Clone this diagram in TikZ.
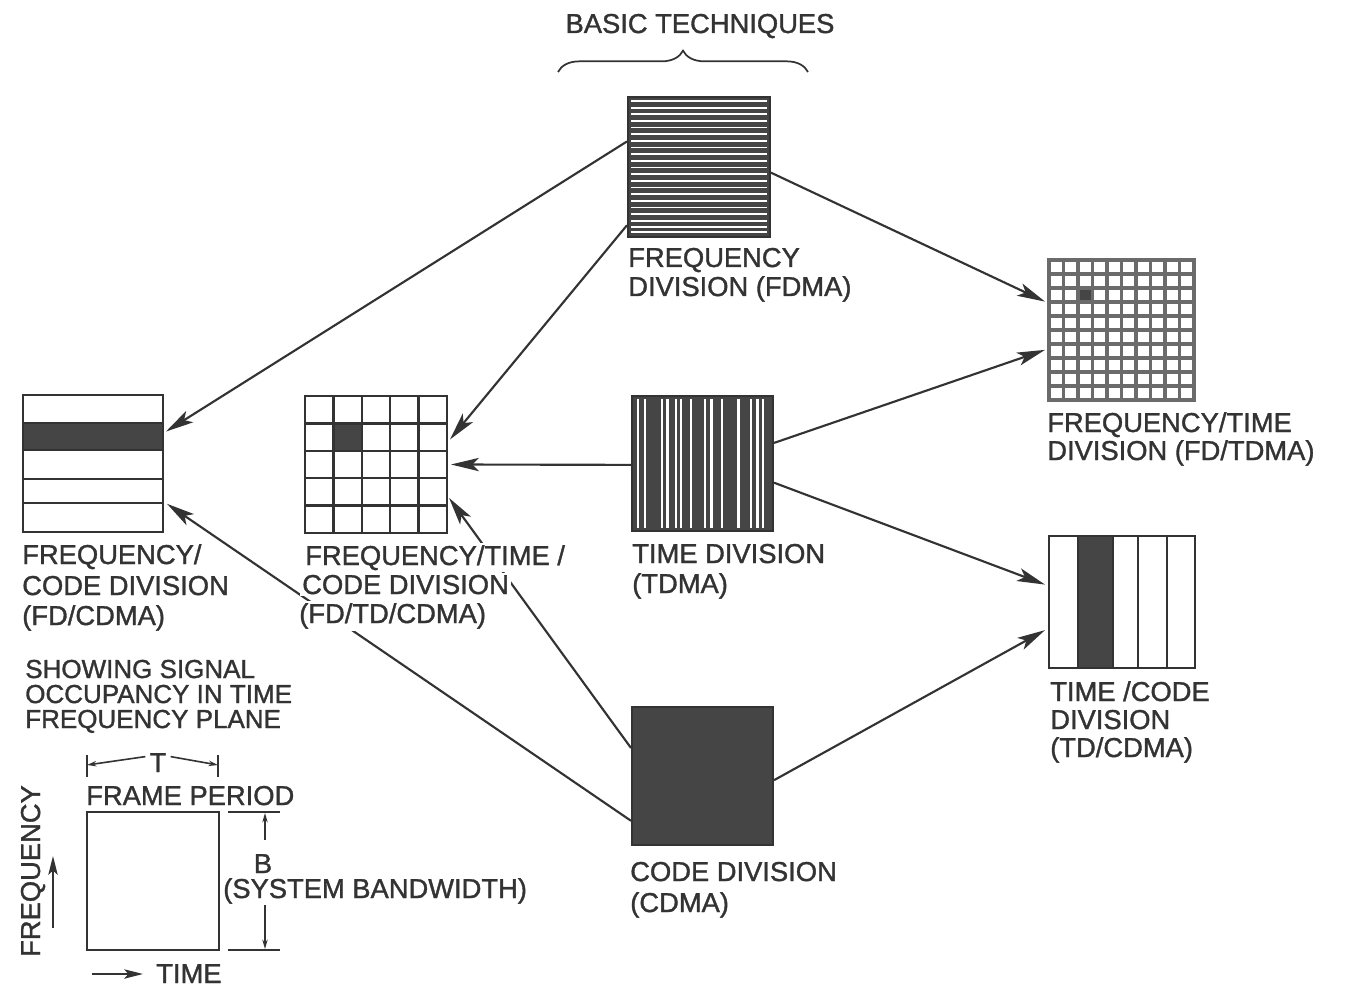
\documentclass[tikz,border=0pt]{standalone}
\usepackage{fontspec}
\setmainfont{Liberation Sans}[FakeBold=1.3]
\usetikzlibrary{arrows.meta,calc,fit,decorations.pathreplacing}
\definecolor{ink}{gray}{0.2}
\definecolor{dfill}{gray}{0.27}
\begin{document}
\begin{tikzpicture}[x=0.75pt,y=-0.75pt,
  box/.style={draw=ink, line width=1.5pt, inner sep=0pt},
  conn/.style={draw=ink, line width=1.6pt, -{Stealth[length=21pt,width=10pt,inset=5pt]}},
  lab/.style={inner sep=0pt, anchor=base west, font=\fontsize{20.5}{22}\selectfont, text=ink},
  labc/.style={lab, anchor=base},
  lab2/.style={lab, font=\fontsize{19.5}{21}\selectfont},
  wlab/.style={lab, fill=white, inner sep=1.5pt},
  wline/.style={draw=white, line width=1.3pt},
  gA/.style={draw=black!58, line width=2.4pt},
  gB/.style={draw=ink, line width=1.9pt},
  thinl/.style={draw=ink, line width=1.3pt},
  dim/.style={draw=ink, line width=1.2pt, -{Stealth[length=7pt,width=4pt]}}
]
\useasboundingbox (0,0) rectangle (1349,987);

% ---------- title and brace ----------
\node[labc] (title) at (700,33) {BASIC TECHNIQUES};
\draw[thinl, decorate, decoration={brace, amplitude=16pt}] (558,72) -- (808,72);

% ---------- FDMA ----------
\node[box, fill=dfill, fit={(628,97) (770,237)}] (fdma) {};
\foreach \k in {0,...,19} \draw[wline] (631,{101+6.65*\k}) -- (767,{101+6.65*\k});
\draw[wline] (631,232) -- (767,232);
\node[box, fit={(628,97) (770,237)}] {};
\node[lab] (fdmaA) at (628,267) {FREQUENCY};
\node[lab] (fdmaB) at (628,296) {DIVISION (FDMA)};

% ---------- TDMA ----------
\node[box, fill=dfill, fit={(632,396) (773,531)}] (tdma) {};
\foreach \x in {638,645,662,667.5,676,681,691,705,711.5,722,738.5,751,757.5,763}
  \draw[draw=white, line width=1.6pt] (\x,399) -- (\x,528);
\node[box, fit={(632,396) (773,531)}] {};
\node[lab] (tdmaA) at (632,563) {TIME DIVISION};
\node[lab] (tdmaB) at (632,593) {(TDMA)};

% ---------- CDMA ----------
\node[box, fill=dfill, fit={(632,707) (773,845)}] (cdma) {};
\node[lab] (cdmaA) at (630,881) {CODE DIVISION};
\node[lab] (cdmaB) at (630,912) {(CDMA)};

% ---------- FD/TDMA ----------
\node[box, fill=white, fit={(1049,260) (1194,400)}] (fdtd) {};
\fill[dfill] (1078,288) rectangle (1092.5,302);
\foreach \i in {1,...,9} {
  \draw[gA] ({1049+14.5*\i},260) -- ({1049+14.5*\i},400);
  \draw[gA] (1049,{260+14*\i}) -- (1194,{260+14*\i});
}
\node[box, draw=black!58, line width=2.4pt, fit={(1049,260) (1194,400)}] {};
\node[lab] (fdtdA) at (1047,432) {FREQUENCY/TIME};
\node[lab] (fdtdB) at (1047,460) {DIVISION (FD/TDMA)};

% ---------- TD/CDMA ----------
\node[box, fill=white, fit={(1049,536) (1195,668)}] (tdcd) {};
\fill[dfill] (1078,536) rectangle (1113,668);
\foreach \x in {1078,1113,1138,1167} \draw[thinl] (\x,536) -- (\x,668);
\node[box, fit={(1049,536) (1195,668)}] {};
\node[lab] (tdcdA) at (1050,701) {TIME /CODE};
\node[lab] (tdcdB) at (1050,729) {DIVISION};
\node[lab] (tdcdC) at (1050,757) {(TD/CDMA)};

% ---------- FD/CDMA ----------
\node[box, fill=white, fit={(23,395) (163,532)}] (fdcd) {};
\fill[dfill] (23,423) rectangle (163,450);
\foreach \y in {423,450,479,503} \draw[thinl] (23,\y) -- (163,\y);
\node[box, fit={(23,395) (163,532)}] {};
\node[lab] (fdcdA) at (22,564) {FREQUENCY/};
\node[lab] (fdcdB) at (22,595) {CODE DIVISION};
\node[lab] (fdcdC) at (22,625) {(FD/CDMA)};

% ---------- FD/TD/CDMA ----------
\node[box, fill=white, fit={(305,396) (447,533)}] (fdtdcd) {};
\fill[dfill] (333.4,423.4) rectangle (361.8,450.8);
\foreach \i in {1,...,4} {
  \draw[gB] ({305+28.4*\i},396) -- ({305+28.4*\i},533);
  \draw[gB] (305,{396+27.4*\i}) -- (447,{396+27.4*\i});
}
\node[box, line width=1.9pt, fit={(305,396) (447,533)}] {};

% ---------- connectors ----------
\draw[conn] ($(fdma.north west)!0.32!(fdma.south west)$) -- ($(fdcd.north east)!0.27!(fdcd.south east)+(2,0)$);
\draw[conn] ($(fdma.north west)!0.91!(fdma.south west)$) -- ($(fdtdcd.north east)!0.32!(fdtdcd.south east)+(2,0)$);
\draw[conn] ($(fdma.north east)!0.54!(fdma.south east)$) -- ($(fdtd.north west)!0.30!(fdtd.south west)+(-3,0)$);
\draw[conn] ($(tdma.north east)!0.35!(tdma.south east)$) -- ($(fdtd.north west)!0.64!(fdtd.south west)+(-3,0)$);
\draw[conn] ($(tdma.north west)!0.51!(tdma.south west)$) -- ($(fdtdcd.north east)!0.5!(fdtdcd.south east)+(3,0)$);
\draw[conn] ($(tdma.north east)!0.64!(tdma.south east)$) -- ($(tdcd.north west)!0.37!(tdcd.south west)+(-3,0)$);
\draw[conn] ($(cdma.north east)!0.53!(cdma.south east)$) -- ($(tdcd.north west)!0.71!(tdcd.south west)+(-3,0)$);
\draw[conn] ($(cdma.north west)!0.82!(cdma.south west)$) -- ($(fdcd.north east)!0.79!(fdcd.south east)+(3,0)$);
\draw[conn] ($(cdma.north west)!0.30!(cdma.south west)$) -- ($(fdtdcd.north east)!0.74!(fdtdcd.south east)+(1,0)$);

% labels of FD/TD/CDMA drawn over the connectors
\node[wlab] (fdtdcdA) at (303,565) {FREQUENCY/TIME /};
\node[wlab] (fdtdcdB) at (300,594) {CODE DIVISION};
\node[wlab] (fdtdcdC) at (297,623) {(FD/TD/CDMA)};

% ---------- legend ----------
\node[lab2] (showA) at (25,678) {SHOWING SIGNAL};
\node[lab2] (showB) at (25,703) {OCCUPANCY IN TIME};
\node[lab2] (showC) at (25,728) {FREQUENCY PLANE};

\node[box, fit={(87,812) (219,950)}] (frame) {};
\coordinate (tl) at (87,765);
\coordinate (tr) at (218,765);
\draw[thinl] (87,755) -- (87,777);
\draw[thinl] (218,755) -- (218,777);
\node[labc] (tlab) at (158,772) {T};
\draw[dim] ($(tlab.west)+(-4,-6)$) -- (tl);
\draw[dim] ($(tlab.east)+(4,-6)$) -- (tr);
\node[lab] (frameP) at (86,805) {FRAME PERIOD};

\draw[thinl] (228,812) -- (280,812);
\draw[thinl] (228,950) -- (280,950);
\coordinate (bt) at (265,813);
\coordinate (bb) at (265,949);
\node[labc] (blab) at (263,873) {B};
\node[lab] (sysbw) at (223,898) {(SYSTEM BANDWIDTH)};
\draw[dim] (265,840) -- (bt);
\draw[dim] (265,905) -- (bb);

\node[lab, rotate=90, anchor=base] (freq) at (40,871) {FREQUENCY};
\coordinate (fa1) at (53,928);
\coordinate (fa2) at (53,856);
\draw[ink, line width=1.6pt, -{Stealth[length=14pt,width=7pt,inset=3pt]}] (fa1) -- (fa2);

\coordinate (ta1) at (92,974);
\coordinate (ta2) at (143,974);
\draw[ink, line width=1.6pt, -{Stealth[length=14pt,width=7pt,inset=3pt]}] (ta1) -- (ta2);
\node[lab] (time) at (156,983) {TIME};
\end{tikzpicture}
\end{document}
